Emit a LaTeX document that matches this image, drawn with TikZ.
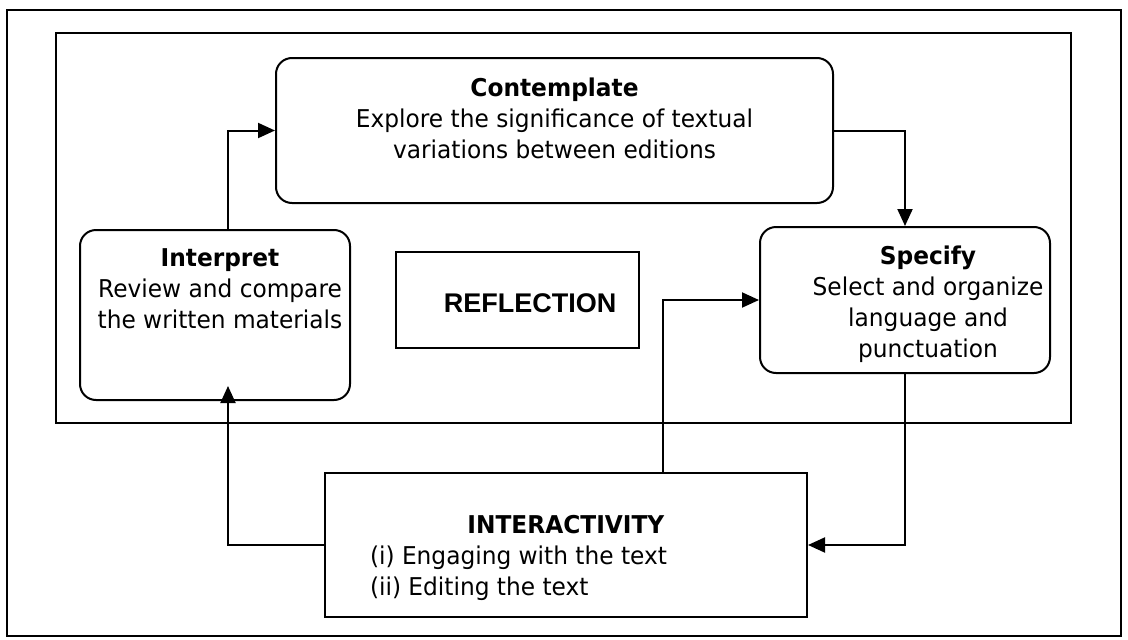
\documentclass[tikz,border=0pt]{standalone}
\usepackage{fontspec}
\setmainfont{DejaVu Sans}[FakeStretch=0.95]
\newfontfamily\headfont{Liberation Sans}
\usepackage{tikz}
\usetikzlibrary{arrows.meta, positioning}

\tikzset{
  card/.style={draw, line width=2pt, rounded corners=16pt, inner sep=0pt},
  plainbox/.style={draw, line width=2pt, inner sep=0pt},
  cardtext/.style={align=center, font=\fontsize{24.5}{31}\selectfont},
  flow/.style={line width=2pt, -{Triangle[length=17pt,width=15pt]}}
}

\begin{document}
\begin{tikzpicture}[x=1pt, y=-1pt]
  \useasboundingbox (0,0) rectangle (1128,640);
  \draw[line width=2pt] (7,10) rectangle (1121,636);
  \draw[line width=2pt] (56,33) rectangle (1071,423);

  \node[card, minimum width=557pt, minimum height=145pt,
        label={[cardtext, yshift=12pt]center:{\textbf{Contemplate}\\Explore the significance of textual\\variations between editions}}]
        (contemp) at (554.5,130.5) {};
  \node[card, minimum width=270pt, minimum height=170pt,
        label={[cardtext, xshift=5pt, yshift=26pt]center:{\textbf{Interpret}\\Review and compare\\the written materials}}]
        (interp) at (215,315) {};
  \node[card, minimum width=290pt, minimum height=146pt,
        label={[cardtext, xshift=23pt, yshift=-4pt]center:{\textbf{Specify}\\Select and organize\\language and\\punctuation}}]
        (spec) at (905,300) {};
  \node[plainbox, minimum width=243pt, minimum height=96pt,
        label={[font=\headfont\bfseries\fontsize{27}{32}\selectfont, xshift=12.5pt, yshift=-3pt]center:REFLECTION}]
        (refl) at (517.5,300) {};
  \node[plainbox, minimum width=482pt, minimum height=144pt,
        label={[cardtext, align=left, yshift=-13pt]center:{\makebox[392pt]{\textbf{INTERACTIVITY}}\\(i) Engaging with the text\\(ii) Editing the text}}]
        (inter) at (566,545) {};

  \draw[flow] ([xshift=13pt]interp.north) |- (contemp.west);
  \draw[flow] (contemp.east) -| (spec.north);
  \draw[flow] (spec.south) |- (inter.east);
  \draw[flow] ([xshift=97pt]inter.north) |- (spec.west);
  \draw[flow] (inter.west) -| ([xshift=13pt,yshift=15pt]interp.south);
\end{tikzpicture}
\end{document}
